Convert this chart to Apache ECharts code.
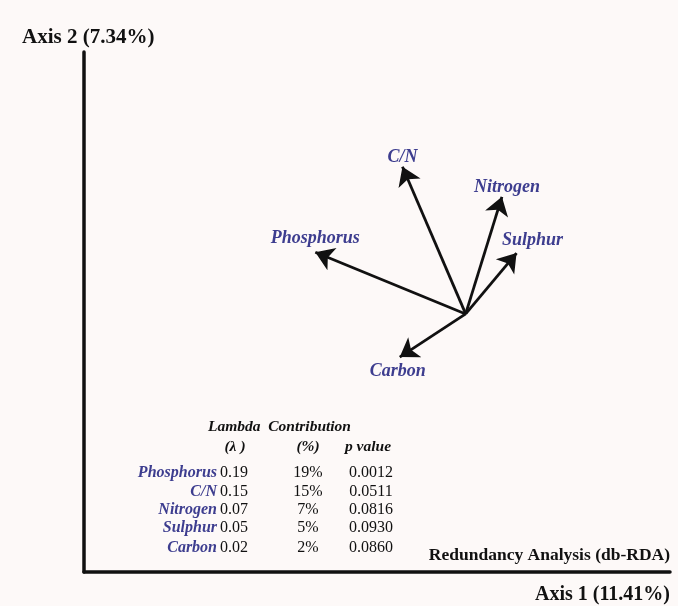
<!DOCTYPE html>
<html>
<head>
<meta charset="utf-8">
<script src="https://cdn.jsdelivr.net/npm/echarts@6/dist/echarts.min.js"></script>
<style>
  html, body { margin: 0; padding: 0; background: #fdf9f8; }
  #main { width: 678px; height: 606px; }
</style>
</head>
<body>
<div id="main"></div>
<script>
  // 环境变量（箭头终点，轴1 / 轴2 得分）
  var variables = ["Phosphorus", "C/N", "Nitrogen", "Sulphur", "Carbon"];
  var axis1Score = [-0.390, -0.164, 0.094, 0.132, -0.171];
  var axis2Score = [0.160, 0.382, 0.304, 0.158, -0.112];

  // 表格
  var tableNames = ["Phosphorus", "C/N", "Nitrogen", "Sulphur", "Carbon"];
  var lambda = ["0.19", "0.15", "0.07", "0.05", "0.02"];
  var contribution = ["19%", "15%", "7%", "5%", "2%"];
  var pValue = ["0.0012", "0.0511", "0.0816", "0.0930", "0.0860"];

  var labelPlace = {
    "Phosphorus": ["top", [0, -5]],
    "C/N": ["top", [0, 0]],
    "Nitrogen": ["top", [5, 0]],
    "Sulphur": ["top", [16, -4]],
    "Carbon": ["bottom", [-2, 5]]
  };

  var blue = "#3d3d8f";
  var serif = "'Liberation Serif', 'DejaVu Serif', serif";

  var chartDom = document.getElementById("main");
  var myChart = echarts.init(chartDom);

  var arrows = variables.map(function (name, i) {
    return { name: name, coords: [[0, 0], [axis1Score[i], axis2Score[i]]] };
  });
  var tips = variables.map(function (name, i) {
    return {
      name: name,
      value: [axis1Score[i], axis2Score[i]],
      label: { position: labelPlace[name][0], offset: labelPlace[name][1] }
    };
  });

  var graphics = [];
  function txt(x, y, text, align, color, italic, bold, size) {
    graphics.push({
      type: "text",
      x: x,
      y: y,
      style: {
        text: text,
        align: align,
        verticalAlign: "middle",
        fill: color,
        font: (italic ? "italic " : "") + (bold ? "bold " : "") + size + "px " + serif
      }
    });
  }
  txt(22, 38, "Axis 2 (7.34%)", "left", "#111", false, true, 21);
  txt(670, 555, "Redundancy Analysis (db-RDA)", "right", "#111", false, true, 17.5);
  txt(670, 595, "Axis 1 (11.41%)", "right", "#111", false, true, 20);
  txt(208, 427, "Lambda  Contribution", "left", "#111", true, true, 15.5);
  txt(235, 447, "(λ )", "center", "#111", true, true, 15.5);
  txt(308, 447, "(%)", "center", "#111", true, true, 15.5);
  txt(368, 447, "p value", "center", "#111", true, true, 15.5);
  var rowY = [473, 492, 510, 528, 548];
  tableNames.forEach(function (n, i) {
    txt(217, rowY[i], n, "right", blue, true, true, 16);
    txt(220, rowY[i], lambda[i], "left", "#111", false, false, 16);
    txt(308, rowY[i], contribution[i], "center", "#111", false, false, 16);
    txt(371, rowY[i], pValue[i], "center", "#111", false, false, 16);
  });

  var option = {
    backgroundColor: "#fdf9f8",
    animation: false,
    grid: { left: 84, right: 8, top: 52, bottom: 34 },
    xAxis: {
      type: "value",
      min: -0.99,
      max: 0.53,
      axisLine: { show: true, onZero: false, lineStyle: { color: "#111", width: 3.5 } },
      axisTick: { show: false },
      axisLabel: { show: false },
      splitLine: { show: false }
    },
    yAxis: {
      type: "value",
      min: -0.67,
      max: 0.68,
      axisLine: { show: true, onZero: false, lineStyle: { color: "#111", width: 3.5 } },
      axisTick: { show: false },
      axisLabel: { show: false },
      splitLine: { show: false }
    },
    series: [
      {
        type: "lines",
        coordinateSystem: "cartesian2d",
        symbol: ["none", "arrow"],
        symbolSize: 18,
        lineStyle: { color: "#111", width: 2.8, opacity: 1 },
        data: arrows
      },
      {
        type: "scatter",
        symbolSize: 0,
        itemStyle: { opacity: 1 },
        label: {
          show: true,
          distance: 0,
          formatter: "{b}",
          color: blue,
          fontFamily: serif,
          fontStyle: "italic",
          fontWeight: "bold",
          fontSize: 18,
          opacity: 1
        },
        data: tips
      }
    ],
    graphic: graphics
  };
  myChart.setOption(option);
</script>
</body>
</html>
